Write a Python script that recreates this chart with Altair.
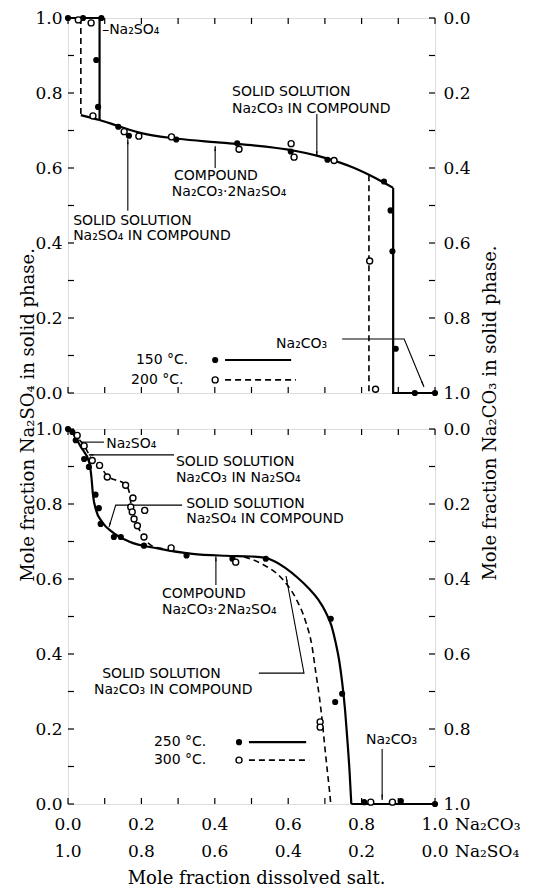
import altair as alt
import pandas as pd

W, H = 367, 375
SERIF = "DejaVu Serif"
SANS = "DejaVu Sans"

# ---------------- Top panel: 150 °C (filled) and 200 °C (open) ----------------
t150_x = [0.0, 0.041, 0.091, 0.077, 0.082, 0.137, 0.166, 0.295, 0.461, 0.607, 0.707, 0.861, 0.879, 0.884, 0.893, 0.945, 1.0]
t150_y = [1.0, 1.0, 1.0, 0.888, 0.763, 0.710, 0.686, 0.676, 0.666, 0.644, 0.622, 0.564, 0.487, 0.378, 0.118, 0.0, 0.0]
t200_x = [0.028, 0.063, 0.068, 0.153, 0.193, 0.282, 0.466, 0.608, 0.616, 0.725, 0.822, 0.838]
t200_y = [0.995, 0.987, 0.739, 0.697, 0.685, 0.683, 0.650, 0.665, 0.629, 0.620, 0.352, 0.010]

# straight segments of the 150 °C boundary
t150_edge1_x = [0.0, 0.086, 0.086]
t150_edge1_y = [1.0, 1.0, 0.728]
t150_edge2_x = [0.886, 0.886, 1.0]
t150_edge2_y = [0.547, 0.0, 0.0]
# curved compound branch (shared by both temperatures)
t150_curve_x = [0.035, 0.086, 0.137, 0.20, 0.30, 0.40, 0.50, 0.60, 0.70, 0.78, 0.84, 0.886]
t150_curve_y = [0.741, 0.728, 0.712, 0.693, 0.678, 0.669, 0.661, 0.649, 0.627, 0.600, 0.572, 0.547]
t200_edge1_x = [0.035, 0.035]
t200_edge1_y = [1.0, 0.741]
t200_edge2_x = [0.820, 0.820]
t200_edge2_y = [0.581, 0.0]

top_text = ["\u2013Na\u2082SO\u2084", "SOLID SOLUTION", "Na\u2082CO\u2083 IN COMPOUND", "COMPOUND",
            "Na\u2082CO\u2083\u00b72Na\u2082SO\u2084", "SOLID SOLUTION", "Na\u2082SO\u2084 IN COMPOUND",
            "150  \u00b0C.", "200  \u00b0C.", "Na\u2082CO\u2083"]
top_tx = [0.093, 0.447, 0.447, 0.289, 0.283, 0.014, 0.014, 0.185, 0.172, 0.567]
top_ty = [0.968, 0.803, 0.757, 0.578, 0.536, 0.459, 0.419, 0.088, 0.035, 0.131]

top_leaders = [
    ([0.678, 0.678], [0.744, 0.633]),
    ([0.401, 0.401], [0.600, 0.658]),
    ([0.163, 0.163], [0.486, 0.677]),
    ([0.747, 0.916, 0.970], [0.144, 0.144, 0.016]),
]
top_head_x = [0.678, 0.401, 0.163, 0.966]
top_head_y = [0.640, 0.650, 0.668, 0.026]
top_head_a = [180, 0, 0, 157]

top_leg_solid = ([0.428, 0.608], [0.088, 0.088])
top_leg_dash = ([0.428, 0.621], [0.035, 0.035])
top_leg_mark_x = [0.401, 0.401]
top_leg_mark_y = [0.088, 0.035]

# ---------------- Bottom panel: 250 °C (filled) and 300 °C (open) ----------------
b250_x = [0.0, 0.012, 0.021, 0.044, 0.057, 0.075, 0.084, 0.089, 0.125, 0.144, 0.207, 0.323, 0.448, 0.539,
          0.716, 0.747, 0.728, 0.807, 0.907, 1.0]
b250_y = [1.0, 0.992, 0.970, 0.920, 0.899, 0.825, 0.789, 0.747, 0.712, 0.712, 0.689, 0.663, 0.654, 0.654,
          0.494, 0.294, 0.272, 0.005, 0.008, 0.0]
b300_x = [0.025, 0.044, 0.066, 0.086, 0.107, 0.157, 0.177, 0.171, 0.175, 0.209, 0.180, 0.189, 0.207, 0.281,
          0.457, 0.687, 0.687, 0.825, 0.884]
b300_y = [0.983, 0.955, 0.916, 0.903, 0.872, 0.850, 0.816, 0.792, 0.779, 0.783, 0.760, 0.742, 0.712, 0.683,
          0.645, 0.219, 0.205, 0.005, 0.005]

b250_curve_x = [0.0, 0.012, 0.035, 0.058, 0.064, 0.068, 0.076, 0.093, 0.121, 0.166, 0.248, 0.339, 0.43, 0.50,
                0.535, 0.565, 0.593, 0.625, 0.657, 0.682, 0.702, 0.718, 0.729, 0.739, 0.747, 0.755, 0.761,
                0.767, 0.772]
b250_curve_y = [1.0, 0.990, 0.952, 0.910, 0.870, 0.825, 0.785, 0.752, 0.725, 0.700, 0.681, 0.667, 0.662, 0.660,
                0.657, 0.646, 0.629, 0.604, 0.574, 0.545, 0.512, 0.475, 0.432, 0.382, 0.325, 0.250, 0.174,
                0.090, 0.0]
b250_edge_x = [0.772, 1.0]
b250_edge_y = [0.0, 0.0]
b300_curve1_x = [0.012, 0.044, 0.066, 0.086, 0.107, 0.157, 0.168, 0.173, 0.189, 0.204, 0.229, 0.26]
b300_curve1_y = [0.990, 0.955, 0.918, 0.903, 0.875, 0.852, 0.827, 0.787, 0.742, 0.715, 0.688, 0.681]
b300_curve2_x = [0.48, 0.529, 0.584, 0.620, 0.648, 0.665, 0.675, 0.685, 0.693, 0.700, 0.707, 0.712, 0.716]
b300_curve2_y = [0.659, 0.640, 0.600, 0.550, 0.485, 0.420, 0.352, 0.285, 0.219, 0.150, 0.085, 0.040, 0.0]

bot_text = ["Na\u2082SO\u2084", "SOLID SOLUTION", "Na\u2082CO\u2083 IN Na\u2082SO\u2084", "SOLID SOLUTION",
            "Na\u2082SO\u2084 IN COMPOUND", "COMPOUND", "Na\u2082CO\u2083\u00b72Na\u2082SO\u2084",
            "SOLID SOLUTION", "Na\u2082CO\u2083 IN COMPOUND", "250  \u00b0C.", "300  \u00b0C.", "Na\u2082CO\u2083"]
bot_tx = [0.104, 0.294, 0.294, 0.322, 0.322, 0.256, 0.256, 0.093, 0.071, 0.234, 0.234, 0.812]
bot_ty = [0.960, 0.912, 0.869, 0.800, 0.760, 0.560, 0.517, 0.347, 0.304, 0.165, 0.117, 0.171]

bot_leaders = [
    ([0.035, 0.098], [0.965, 0.965]),
    ([0.057, 0.289], [0.931, 0.931]),
    ([0.112, 0.130, 0.311], [0.739, 0.797, 0.797]),
    ([0.403, 0.403], [0.584, 0.660]),
    ([0.520, 0.643, 0.594], [0.349, 0.349, 0.608]),
    ([0.856, 0.856], [0.147, 0.011]),
]
bot_head_x = [0.064, 0.114, 0.403, 0.596, 0.856]
bot_head_y = [0.931, 0.746, 0.652, 0.598, 0.020]
bot_head_a = [270, 197, 0, 349, 180]

bot_leg_solid = ([0.493, 0.649], [0.165, 0.165])
bot_leg_dash = ([0.493, 0.657], [0.117, 0.117])
bot_leg_mark_x = [0.466, 0.466]
bot_leg_mark_y = [0.165, 0.117]

# ---------------- Axes ----------------
tick_vals = [round(i * 0.1, 1) for i in range(11)]
label_vals = [0.0, 0.2, 0.4, 0.6, 0.8, 1.0]
x_row1 = ["0.0", "0.2", "0.4", "0.6", "0.8", "1.0"]
x_row2 = ["1.0", "0.8", "0.6", "0.4", "0.2", "0.0"]
left_title = "Mole fraction Na\u2082SO\u2084 in solid phase."
right_title = "Mole fraction Na\u2082CO\u2083 in solid phase."
x_title = "Mole fraction dissolved salt."

xsc = alt.Scale(domain=[0, 1], nice=False, zero=False)
ysc = alt.Scale(domain=[0, 1], nice=False, zero=False)


def X(f="x"):
    return alt.X(f"{f}:Q", scale=xsc, axis=None)


def Y(f="y"):
    return alt.Y(f"{f}:Q", scale=ysc, axis=None)


def paths_df(paths):
    rows = []
    for k, (xs, ys) in enumerate(paths):
        for i, (x, y) in enumerate(zip(xs, ys)):
            rows.append({"x": x, "y": y, "p": k, "i": i})
    return pd.DataFrame(rows)


ticks_df = pd.DataFrame({"v": tick_vals})
lab_axis = dict(values=label_vals, ticks=False, domain=False, grid=False, title=None,
                labelFont=SERIF, labelFontSize=17, labelColor="black")

left_ticks = alt.Chart(ticks_df).mark_rule(color="black", strokeWidth=1.2).encode(
    y=alt.Y("v:Q", scale=ysc, axis=alt.Axis(orient="left", format=".1f", labelPadding=6, **lab_axis)),
    x=alt.value(0), x2=alt.value(6))
right_ticks = alt.Chart(ticks_df).mark_rule(color="black", strokeWidth=1.2).encode(
    y=alt.Y("v:Q", scale=ysc, axis=alt.Axis(orient="right", labelExpr="format(1 - datum.value, '.1f')",
                                            labelPadding=8, **lab_axis)),
    x=alt.value(W - 6), x2=alt.value(W))
top_ticks = alt.Chart(ticks_df).mark_rule(color="black", strokeWidth=1.2).encode(
    x=alt.X("v:Q", scale=xsc, axis=None), y=alt.value(0), y2=alt.value(6))
bottom_ticks = alt.Chart(ticks_df).mark_rule(color="black", strokeWidth=1.2).encode(
    x=alt.X("v:Q", scale=xsc, axis=None), y=alt.value(H - 6), y2=alt.value(H))


def lines(paths, interp, dash=None, width=2.2):
    kw = dict(color="black", strokeWidth=width, interpolate=interp)
    if dash:
        kw["strokeDash"] = dash
    return alt.Chart(paths_df(paths)).mark_line(**kw).encode(x=X(), y=Y(), detail="p:N", order="i:Q")


def panel(fx, fy, ox, oy, solid_lin, solid_smooth, dash_lin, dash_smooth, leaders, hx, hy, ha,
          texts, tx, ty, lmx, lmy, extra=()):
    layers = [left_ticks, right_ticks, top_ticks, bottom_ticks]
    layers.append(lines(solid_lin, "linear"))
    if solid_smooth:
        layers.append(lines(solid_smooth, "monotone"))
    layers.append(lines(dash_lin, "linear", [6, 4], 1.6))
    if dash_smooth:
        layers.append(lines(dash_smooth, "monotone", [6, 4], 1.6))
    layers.append(lines(leaders, "linear", None, 1.1))
    layers.append(alt.Chart(pd.DataFrame({"x": hx, "y": hy, "a": ha})).mark_point(
        shape="wedge", filled=True, color="black", size=40, opacity=1).encode(
        x=X(), y=Y(), angle=alt.Angle("a:Q", scale=None)))
    layers.append(alt.Chart(pd.DataFrame({"x": fx + lmx[:1], "y": fy + lmy[:1]})).mark_point(
        shape="circle", filled=True, color="black", size=38, opacity=1).encode(x=X(), y=Y()))
    layers.append(alt.Chart(pd.DataFrame({"x": ox + lmx[1:], "y": oy + lmy[1:]})).mark_point(
        shape="circle", filled=True, fill="white", stroke="black", strokeWidth=1.4, size=36, opacity=1).encode(
        x=X(), y=Y()))
    layers.append(alt.Chart(pd.DataFrame({"x": tx, "y": ty, "t": texts})).mark_text(
        align="left", baseline="middle", font=SANS, fontSize=14, color="black").encode(
        x=X(), y=Y(), text="t:N"))
    layers += list(extra)
    return alt.layer(*layers).properties(width=W, height=H).resolve_axis(y="independent")


top = panel(t150_x, t150_y, t200_x, t200_y,
            [(t150_edge1_x, t150_edge1_y), (t150_edge2_x, t150_edge2_y), top_leg_solid],
            [(t150_curve_x, t150_curve_y)],
            [(t200_edge1_x, t200_edge1_y), (t200_edge2_x, t200_edge2_y), top_leg_dash],
            [],
            top_leaders, top_head_x, top_head_y, top_head_a,
            top_text, top_tx, top_ty, top_leg_mark_x, top_leg_mark_y)

xl_df = pd.DataFrame({"v": label_vals, "r1": x_row1, "r2": x_row2})
row1 = alt.Chart(xl_df).mark_text(font=SERIF, fontSize=17, baseline="middle", color="black").encode(
    x=alt.X("v:Q", scale=xsc, axis=None), y=alt.value(H + 21), text="r1:N")
row2 = alt.Chart(xl_df).mark_text(font=SERIF, fontSize=17, baseline="middle", color="black").encode(
    x=alt.X("v:Q", scale=xsc, axis=None), y=alt.value(H + 48), text="r2:N")
end_df = pd.DataFrame({"v": [1.0, 1.0], "t": ["Na\u2082CO\u2083", "Na\u2082SO\u2084"], "yy": [H + 21, H + 48]})
ends = alt.Chart(end_df).mark_text(font=SERIF, fontSize=17, baseline="middle", align="left", dx=20,
                                   color="black").encode(
    x=alt.X("v:Q", scale=xsc, axis=None), y=alt.Y("yy:Q", scale=None, axis=None), text="t:N")
ttl_df = pd.DataFrame({"t": [left_title, right_title, x_title],
                       "px": [-39, W + 56, W / 2 + 5], "py": [-14, -16, H + 75], "a": [270, 270, 0]})
titles = alt.Chart(ttl_df).mark_text(font=SERIF, fontSize=18, baseline="middle", align="center",
                                     color="black").encode(
    x=alt.X("px:Q", scale=None, axis=None), y=alt.Y("py:Q", scale=None, axis=None),
    angle=alt.Angle("a:Q", scale=None), text="t:N")

bottom = panel(b250_x, b250_y, b300_x, b300_y,
               [(b250_edge_x, b250_edge_y), bot_leg_solid],
               [(b250_curve_x, b250_curve_y)],
               [bot_leg_dash],
               [(b300_curve1_x, b300_curve1_y), (b300_curve2_x, b300_curve2_y)],
               bot_leaders, bot_head_x, bot_head_y, bot_head_a,
               bot_text, bot_tx, bot_ty, bot_leg_mark_x, bot_leg_mark_y,
               extra=[row1, row2, ends, titles])

chart = alt.vconcat(top, bottom, spacing=36, bounds="flush").properties(
    padding={"left": 11, "top": 0, "right": 0, "bottom": 0}
).configure_view(stroke="black", strokeWidth=2).configure(background="white")

chart.save("out.html", embed_options={"renderer": "svg", "actions": False})
